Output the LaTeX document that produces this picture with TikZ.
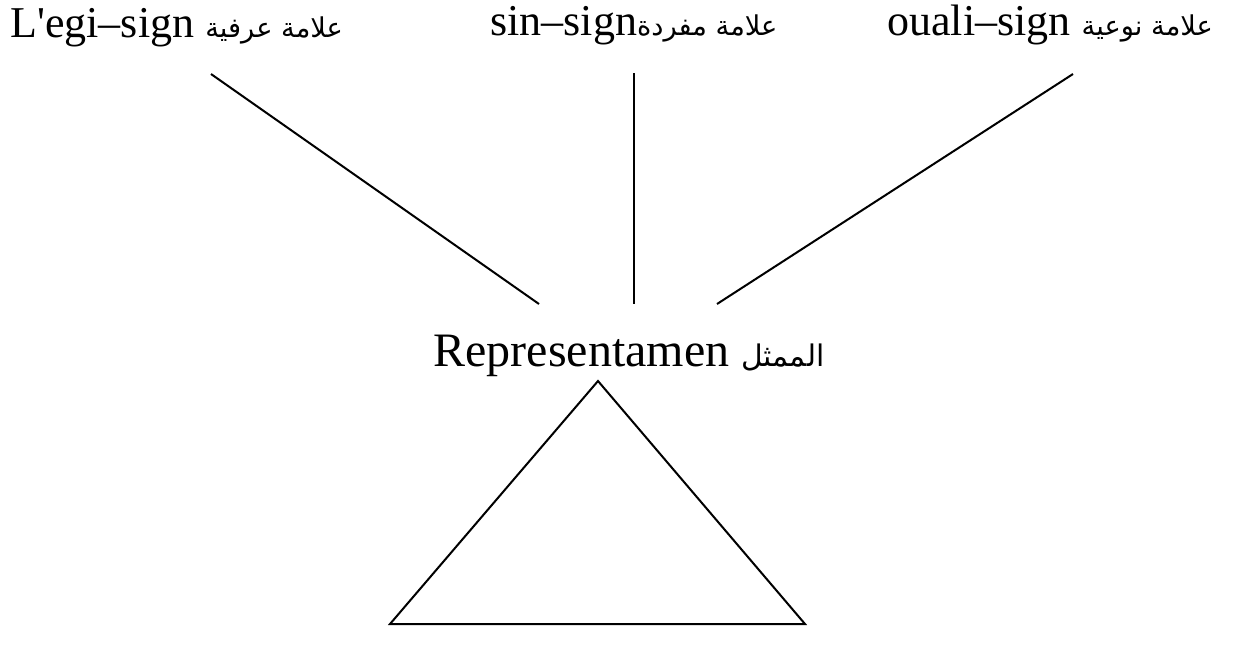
\documentclass[tikz,border=0pt]{standalone}
\usepackage{fontspec}
\setmainfont{Liberation Serif}
\newfontfamily\arabicfont[Script=Arabic,Scale=0.62]{DejaVu Sans}
\TeXXeTstate=1
\usetikzlibrary{positioning}

\newcommand{\ar}[1]{{\arabicfont\beginR #1\endR}}

\begin{document}
\begin{tikzpicture}[x=0.5pt, y=-0.5pt,
    every node/.style={font=\fontsize{22}{26}\selectfont, inner sep=0pt},
    signlabel/.style={anchor=base west},
    tie/.style={line width=1pt}]

    \useasboundingbox (0,0) rectangle (1237,660);

    % ---- labels ----
    \node[signlabel] (legi)  at (10, 37)  {L\textquotesingle egi--sign \ar{علامة عرفية}};
    \node[signlabel] (sin)   at (490, 35) {sin--sign\ar{علامة مفردة}};
    \node[signlabel] (quali) at (887, 35) {ouali--sign \ar{علامة نوعية}};
    \node[signlabel, font=\fontsize{24}{28}\selectfont] (repr) at (433, 366)
      {Representamen \ar{الممثل}};

    % ---- line ends ----
    \coordinate (legi-top)  at (211, 74);
    \coordinate (legi-bot)  at (539, 304);
    \coordinate (sin-top)   at (634, 73);
    \coordinate (sin-bot)   at (634, 304);
    \coordinate (quali-top) at (1073, 74);
    \coordinate (quali-bot) at (717, 304);

    \draw[tie] (legi-top)  -- (legi-bot);
    \draw[tie] (sin-top)   -- (sin-bot);
    \draw[tie] (quali-top) -- (quali-bot);

    % ---- triangle ----
    \coordinate (apex)  at (598, 381);
    \coordinate (left)  at (390, 624);
    \coordinate (right) at (805, 624);
    \draw[tie] (apex) -- (left) -- (right) -- cycle;

\end{tikzpicture}
\end{document}
